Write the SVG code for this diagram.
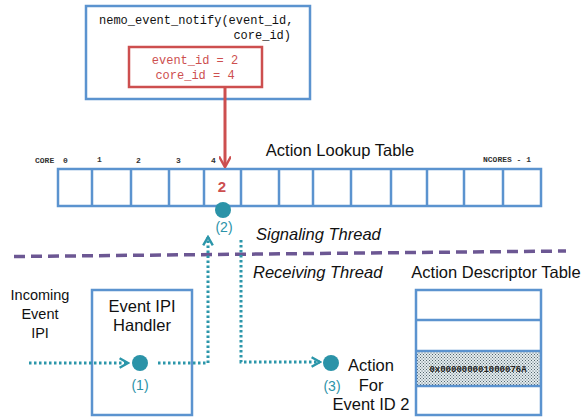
<svg xmlns="http://www.w3.org/2000/svg" width="584" height="417" viewBox="0 0 584 417">
<defs>
<style>
.box{fill:#fff;stroke:#5b93cf;stroke-width:2.5}
.frame{fill:none;stroke:#5b93cf;stroke-width:2.5}
.mono{font-family:"Liberation Mono","DejaVu Sans Mono",monospace}
.sans{font-family:"Liberation Sans",Arial,sans-serif}
.lbl{font-family:"Liberation Mono",monospace;font-size:8px;font-weight:bold;fill:#333}
.dot{fill:none;stroke:#2b96aa;stroke-width:3;stroke-dasharray:2.5 2.5}
.node{fill:#2b93a8}
.num{font-family:"Liberation Sans",Arial,sans-serif;font-size:14px;fill:#2b93a8;text-anchor:middle}
.txt{font-family:"Liberation Sans",Arial,sans-serif;font-size:16.5px;fill:#111}
</style>
<pattern id="stip" width="3" height="3" patternUnits="userSpaceOnUse">
<rect width="3" height="3" fill="#e4ecef"/>
<rect width="1" height="1" fill="#52656c"/>
<rect x="1.5" y="1.5" width="1" height="1" fill="#52656c"/>
</pattern>
<marker id="redArrow" viewBox="0 0 10 10" refX="8" refY="5" markerWidth="4" markerHeight="4" orient="auto" markerUnits="strokeWidth">
<path d="M0,0 L9,5 L0,10" fill="none" stroke="#cd4f4f" stroke-width="2"/>
</marker>
<marker id="tealArrow" viewBox="0 0 10 10" refX="8" refY="5" markerWidth="4" markerHeight="4" orient="auto" markerUnits="strokeWidth">
<path d="M1,1 L8,5 L1,9" fill="none" stroke="#2b96aa" stroke-width="2"/>
</marker>
</defs>
<rect width="584" height="417" fill="#fff"/>

<g id="notify">
<rect class="box" x="86" y="6" width="224" height="93"/>
<text class="mono" x="99" y="24" font-size="12" fill="#111">nemo_event_notify(event_id,</text>
<text class="mono" x="291" y="39" font-size="12" fill="#111" text-anchor="end">core_id)</text>
<rect x="129" y="47" width="133" height="40" fill="#fff" stroke="#cd4f4f" stroke-width="2.5"/>
<text class="mono" x="195" y="64" font-size="12" fill="#cd4f4f" text-anchor="middle">event_id = 2</text>
<text class="mono" x="195" y="79" font-size="12" fill="#cd4f4f" text-anchor="middle">core_id = 4</text>
</g>

<g id="lookup-table">
<text class="txt" x="340" y="156" text-anchor="middle" font-size="17">Action Lookup Table</text>
<text class="lbl" x="35" y="163">CORE</text>
<text class="lbl" x="63" y="163">0</text>
<text class="lbl" x="97" y="162">1</text>
<text class="lbl" x="136" y="163">2</text>
<text class="lbl" x="176" y="163">3</text>
<text class="lbl" x="211" y="163">4</text>
<text class="lbl" x="483" y="162">NCORES - 1</text>
<rect class="box" x="58" y="169" width="483" height="37"/>
<path d="M92,169V206M131,169V206M169,169V206M204,169V206M241,169V206M279,169V206M313,169V206M351,169V206M391,169V206M427,169V206M464,169V206M503,169V206" stroke="#5b93cf" stroke-width="2.5" fill="none"/>
<text x="222" y="192" font-family="Liberation Sans,Arial,sans-serif" font-size="15" font-weight="bold" fill="#cd4f4f" text-anchor="middle">2</text>
</g>

<g id="node2">
<circle class="node" cx="223" cy="210" r="8"/>
<text class="num" x="224" y="232">(2)</text>
</g>

<g id="threads">
<line x1="14" y1="256.5" x2="566" y2="251" stroke="#6c5793" stroke-width="3.5" stroke-dasharray="11 6"/>
<text class="txt" x="256" y="240" font-style="italic">Signaling Thread</text>
<text class="txt" x="253" y="278" font-style="italic">Receiving Thread</text>
</g>

<g id="incoming">
<text class="sans" x="40" y="300" font-size="14.5" fill="#111" text-anchor="middle">Incoming</text>
<text class="sans" x="40" y="319" font-size="14.5" fill="#111" text-anchor="middle">Event</text>
<text class="sans" x="40" y="338" font-size="14.5" fill="#111" text-anchor="middle">IPI</text>
</g>

<g id="handler">
<rect class="box" x="92" y="290" width="100" height="125"/>
<text class="txt" x="142" y="312" text-anchor="middle">Event IPI</text>
<text class="txt" x="142" y="331" text-anchor="middle">Handler</text>
</g>

<g id="node1">
<circle class="node" cx="140" cy="363" r="8"/>
<text class="num" x="140" y="390">(1)</text>
</g>

<g id="node3">
<circle class="node" cx="331" cy="363" r="8"/>
<text class="num" x="332" y="391">(3)</text>
<text class="txt" x="371" y="371" text-anchor="middle">Action</text>
<text class="txt" x="371" y="391" text-anchor="middle">For</text>
<text class="txt" x="371" y="410" text-anchor="middle">Event ID 2</text>
</g>

<g id="descriptor-table">
<text class="txt" x="496" y="278" text-anchor="middle" font-size="17">Action Descriptor Table</text>
<rect x="416" y="290" width="125" height="125" fill="#fff"/>
<rect x="416" y="351" width="125" height="35" fill="url(#stip)"/>
<path d="M416,320H541M416,351H541M416,386H541" stroke="#5b93cf" stroke-width="2.5"/>
<rect class="frame" x="416" y="290" width="125" height="125"/>
<text x="478" y="372" font-family="Liberation Mono,monospace" font-size="9" font-weight="bold" fill="#222" text-anchor="middle">0x000000001000076A</text>
</g>

<g id="connectors">
<line x1="225" y1="87" x2="225" y2="166" stroke="#cd4f4f" stroke-width="3" marker-end="url(#redArrow)"/>
<line class="dot" x1="29" y1="363" x2="128" y2="363" marker-end="url(#tealArrow)"/>
<polyline class="dot" points="158,363 208,363 208,237" marker-end="url(#tealArrow)"/>
<polyline class="dot" points="241,240 241,362 320,362" marker-end="url(#tealArrow)"/>
</g>
</svg>
